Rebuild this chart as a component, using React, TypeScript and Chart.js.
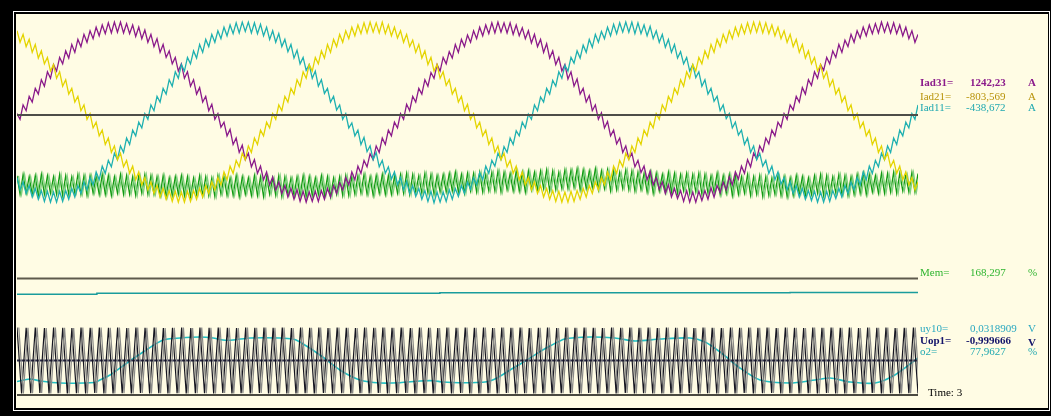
import React, { useEffect, useRef } from "react";
import { Chart, registerables } from "chart.js";

Chart.register(...registerables);

// ---------- time base ----------
const T_END = 3; // s ("Time: 3")

// ---------- top panel: phase currents, A ----------
const iad31: number[] = [
  20, -60, 140, 60, 260, 180, 370, 290, 490, 400, 600, 510, 700, 610, 800, 710, 890, 790, 980, 870, 1050, 950, 1120, 1010, 1170, 1060, 1220, 1100, 1250, 1130, 1280, 1140, 1290,
  1150, 1290, 1140, 1270, 1130, 1250, 1090, 1220, 1060, 1180,
  1010, 1120, 950, 1060, 870, 980, 800, 890, 710, 800,
  610, 710, 510, 600, 400, 490, 290, 380, 180, 260,
  60, 150, -60, 20, -170, -100, -290, -200, -410, -320,
  -520, -420, -620, -530, -720, -620, -810, -710, -900, -790,
  -970, -860, -1040, -930, -1090, -980, -1140, -1020, -1170, -1040,
  -1200, -1060, -1210, -1070, -1200, -1060, -1200, -1050, -1170, -1020,
  -1140, -980, -1090, -940, -1040, -870, -970, -790, -900, -710,
  -810, -630, -720, -540, -620, -430, -520, -320, -410, -210,
  -290, -100, -180, 20, -60, 150, 60, 260, 180, 370,
  290, 490, 400, 590, 510, 700, 610, 800, 710, 880,
  790, 980, 870, 1050, 950, 1110, 1010, 1170, 1060, 1220,
  1100, 1250, 1130, 1280, 1140, 1290,
  1150, 1280, 1140, 1280, 1120, 1250, 1100, 1210, 1060, 1170,
  1000, 1120, 950, 1050, 870, 990, 790, 890, 700, 800,
  610, 700, 500, 600, 400, 500, 290, 370, 180, 270,
  60, 140, -60, 30, -180, -90, -290, -210, -400, -320,
  -520, -430, -610, -530, -720, -630, -800, -710, -900, -780,
  -970, -870, -1030, -930, -1090, -970, -1140, -1020, -1160, -1050,
  -1200, -1050, -1210, -1070, -1210, -1060, -1190, -1050, -1170, -1010,
  -1140, -980, -1080, -930, -1040, -860, -970, -790, -890, -710,
  -810, -620, -720, -530, -610, -430, -510, -320, -400, -210,
  -290, -100, -170, 20, -60, 140, 70, 260, 180, 380,
  290, 490, 410, 600, 510, 700, 620, 800, 710, 890,
  800, 980, 870, 1040, 950, 1120, 1010, 1170, 1070, 1220,
  1100, 1250, 1130, 1270, 1140, 1290,
  1150, 1280, 1140, 1280, 1130, 1250, 1100, 1220, 1060, 1170, 1010, 1120,
];

const iad21: number[] = [
  1170, 1010, 1120, 950, 1050, 870, 980, 790, 890, 710, 800,
  610, 700, 510, 600, 400, 490, 290, 370, 180, 260,
  60, 140, -60, 20, -180, -100, -290, -210, -410, -320,
  -520, -430, -620, -530, -720, -630, -810, -710, -900, -790,
  -970, -870, -1040, -930, -1090, -980, -1140, -1020, -1170, -1050,
  -1200, -1060, -1210, -1070, -1210, -1060, -1200, -1050, -1170, -1020,
  -1140, -980, -1090, -930, -1040, -870, -970, -790, -900, -710,
  -810, -630, -720, -530, -620, -430, -520, -320, -410, -210,
  -290, -100, -180, 20, -60, 140, 60, 260, 180, 370,
  290, 490, 400, 600, 510, 700, 610, 800, 710, 890,
  790, 980, 870, 1050, 950, 1120, 1010, 1170, 1060, 1220,
  1100, 1250, 1130, 1280, 1140, 1290,
  1150, 1280, 1140, 1290, 1130, 1250, 1100, 1220, 1070, 1170,
  1010, 1120, 950, 1040, 870, 980, 790, 890, 700, 800,
  610, 700, 510, 600, 410, 490, 290, 370, 180, 260,
  60, 150, -60, 20, -180, -100, -290, -210, -410, -320,
  -520, -430, -620, -530, -720, -630, -810, -710, -900, -790,
  -970, -870, -1040, -930, -1090, -980, -1140, -1020, -1170, -1050,
  -1200, -1060, -1210, -1070, -1210, -1060, -1200, -1050, -1170, -1020,
  -1140, -980, -1090, -930, -1040, -870, -970, -790, -900, -710,
  -810, -630, -720, -530, -620, -430, -520, -320, -410, -210,
  -290, -100, -180, 20, -60, 140, 60, 260, 180, 370,
  290, 490, 400, 600, 510, 700, 610, 800, 710, 890,
  790, 980, 870, 1050, 950, 1120, 1010, 1170, 1060, 1220,
  1100, 1250, 1130, 1280, 1140, 1290,
  1150, 1290, 1140, 1280, 1130, 1250, 1100, 1220, 1060, 1170,
  1010, 1120, 950, 1050, 870, 980, 790, 890, 710, 800,
  610, 700, 510, 600, 400, 490, 290, 370, 180, 260,
  60, 140, -60, 20, -180, -100, -290, -210, -410, -320,
  -520, -430, -620, -530, -720, -630, -810, -710, -900, -790,
  -970, -870, -1040, -930,
];

const iad11: number[] = [
  -870, -1040, -930, -1090, -980, -1140, -1020, -1170, -1050,
  -1200, -1060, -1210, -1070, -1210, -1060, -1200, -1050, -1170, -1020,
  -1140, -980, -1090, -930, -1040, -870, -970, -790, -900, -710,
  -810, -630, -720, -530, -620, -430, -520, -320, -410, -210,
  -290, -100, -180, 20, -60, 140, 60, 260, 180, 370,
  290, 490, 400, 600, 510, 700, 610, 800, 710, 890,
  790, 980, 870, 1050, 950, 1120, 1010, 1170, 1060, 1220,
  1100, 1250, 1130, 1280, 1140, 1290,
  1160, 1290, 1140, 1280, 1130, 1260, 1100, 1220, 1050, 1170,
  1010, 1130, 950, 1050, 880, 980, 790, 900, 710, 800,
  620, 700, 510, 610, 400, 490, 300, 370, 180, 260,
  70, 140, -60, 20, -180, -110, -290, -210, -410, -310,
  -510, -430, -620, -520, -720, -630, -810, -720, -890, -790,
  -970, -870, -1040, -920, -1090, -980, -1130, -1020, -1170, -1050,
  -1200, -1060, -1220, -1070, -1210, -1070, -1200, -1040, -1170, -1020,
  -1130, -980, -1090, -930, -1030, -870, -970, -800, -900, -710,
  -810, -630, -710, -530, -620, -440, -520, -320, -410, -220,
  -290, -100, -180, 10, -60, 140, 60, 250, 180, 370,
  290, 480, 400, 600, 510, 690, 610, 800, 720, 890,
  790, 970, 870, 1050, 940, 1120, 1010, 1160, 1060, 1220,
  1100, 1260, 1130, 1280, 1150, 1290,
  1150, 1290, 1130, 1280, 1130, 1250, 1100, 1230, 1060, 1170,
  1010, 1120, 940, 1050, 870, 980, 790, 880, 710, 800,
  610, 700, 520, 600, 400, 490, 290, 370, 190, 260,
  60, 140, -50, 20, -180, -100, -280, -210, -410, -320,
  -520, -430, -620, -530, -710, -630, -810, -710, -900, -790,
  -960, -870, -1040, -930, -1090, -980, -1140, -1020, -1170, -1050,
  -1190, -1060, -1210, -1070, -1210, -1060, -1200, -1050, -1160, -1020,
  -1140, -980, -1090, -930, -1040, -870, -970, -790, -900, -710,
  -810, -630, -720, -530, -620, -430, -520, -320, -410, -210,
  -290, -100, -180, 20, -60, 140,
];

// green ripple band (Mem, %)
const mem: number[] = [
  176, 160, 177, 161, 175, 160, 176, 159, 177, 160,
  176, 161, 175, 160, 177, 159, 176, 160, 175, 161,
  177, 160, 176, 159, 176, 161, 175, 160, 177, 160,
  176, 159, 175, 161, 177, 160, 176, 160, 175, 159,
  176, 161, 177, 160, 176, 160,
  175, 159, 176, 158, 174, 159, 175, 160, 176, 159,
  175, 158, 174, 160, 176, 159, 175, 159, 174, 158,
  176, 160, 175, 159, 174, 159, 176, 158, 175, 160,
  174, 159, 176, 159, 175, 158, 175, 160, 174, 159,
  176, 158, 175, 160, 174, 159, 175, 159, 176, 158,
  175, 159, 174, 160, 176, 159, 175, 158, 174, 160, 175, 159, 176, 159, 175,
  160, 176, 161, 177, 160, 175, 159, 176, 161, 177, 160, 176, 160, 175, 161,
  177, 161, 178, 160, 177, 162, 176, 161, 178, 161, 177, 160, 176, 162, 177,
  162, 178, 163, 179, 162, 177, 161, 178, 163, 178, 162, 179, 162, 177, 163,
  179, 163, 180, 162, 179, 164, 178, 163, 180, 163, 179, 162, 180, 164, 179,
  164, 180, 165, 181, 163, 180, 164, 179, 165, 181,
  165, 181, 166, 182, 164, 181, 165, 180, 166, 182,
  164, 180, 165, 181, 163, 180, 164, 179, 165, 181, 164, 180, 163, 179, 164,
  178, 162, 179, 161, 178, 163, 177, 162, 179, 162, 178, 161, 177, 163, 178,
  161, 177, 162, 178, 160, 177, 161, 176, 162, 178,
  160, 176, 161, 177, 159, 176, 160, 175, 161, 177,
  159, 175, 160, 176, 158, 175, 159, 174, 160, 176, 159, 175, 158, 174, 159, 176, 160, 175, 159, 174,
  160, 176, 161, 177, 159, 176, 160, 175, 161, 177, 160, 176, 159, 175, 160,
  177, 161, 178, 160, 177, 162, 176, 161, 178, 161,
  178, 162, 179, 161, 178, 163, 177, 162, 179, 162, 178,
];

// ---------- middle panel: uy10, V ----------
const uy10Time: number[] = [0, 0.266, 1.408, 2.574, 3];
const uy10Vals: number[] = [0.0296, 0.0309, 0.0315, 0.0319, 0.0319];
const uy10Ref: number[] = [0.0501, 0.0501];

// ---------- bottom panel: Uop1, V and o2, % ----------
const uop1: number[] = [
  1, -1, 0.99, -0.99, 1, -0.98, 0.98, -1, 1, -0.99, 0.99, -1, 0.98, -0.99, 1, -1, 0.99, -0.98, 1, -1,
  0.99, -1, 1, -0.99, 0.98, -1, 1, -0.98, 0.99, -1, 1, -0.99, 0.98, -1, 0.99, -0.99, 1, -1, 0.98, -0.99,
  1, -0.99, 0.99, -1, 1, -0.98, 0.99, -1, 0.98, -0.99, 1, -1, 0.99, -0.98, 1, -1, 0.99, -0.99, 1, -1,
  0.98, -1, 1, -0.99, 0.99, -1, 1, -0.98, 0.98, -1, 1, -0.99, 0.99, -1, 0.98, -0.99, 1, -1, 0.99, -0.98,
  1, -1, 0.99, -0.99, 1, -0.98, 0.98, -1, 1, -0.99, 0.99, -1, 0.98, -0.99, 1, -1, 0.99, -0.98, 1, -1,
  0.99, -1, 1, -0.99, 0.98, -1, 1, -0.98, 0.99, -1, 1, -0.99, 0.98, -1, 0.99, -0.99, 1, -1, 0.98, -0.99,
  1, -0.99, 0.99, -1, 1, -0.98, 0.99, -1, 0.98, -0.99, 1, -1, 0.99, -0.98, 1, -1, 0.99, -0.99, 1, -1,
  0.98, -1, 1, -0.99, 0.99, -1, 1, -0.98, 0.98, -1, 1, -0.99, 0.99, -1, 0.98, -0.99, 1, -1, 0.99, -0.98,
  1, -1, 0.99, -0.99, 1, -0.98, 0.98, -1, 1, -0.99, 0.99, -1, 0.98, -0.99, 1, -1, 0.99, -0.98, 1, -1,
  0.99, -1, 1, -0.99, 0.98, -1, 1, -0.98, 0.99, -1, 1, -0.99, 0.98, -1, 0.99, -0.99, 1, -1,
];
const uop1Zero: number[] = [0, 0];

const o2Time: number[] = [
  0, 0.043, 0.077, 0.143, 0.26, 0.276, 0.31, 0.366, 0.42, 0.486,
  0.543, 0.609, 0.653, 0.686, 0.719, 0.776, 0.876, 0.919, 0.942, 1.009,
  1.075, 1.142, 1.209, 1.275, 1.342, 1.385, 1.418, 1.475, 1.565, 1.598,
  1.642, 1.698, 1.741, 1.775, 1.824, 1.908, 1.991, 2.058, 2.141, 2.241,
  2.291, 2.341, 2.407, 2.474, 2.574, 2.657, 2.707, 2.774, 2.857, 2.923, 3,
];
const o2Vals: number[] = [
  28.5, 33.7, 29.5, 25.3, 26.4, 31.6, 42.2, 67.5, 90.6, 115.9,
  120.2, 122.3, 120.2, 115.9, 115.9, 120.2, 120.2, 118, 111.7, 84.3,
  52.7, 31.6, 25.3, 25.9, 29.5, 30.1, 27.4, 25.9, 28, 35.8,
  52.7, 73.8, 91.3, 103.3, 118, 122.3, 120.2, 113.8, 118, 120.2,
  111.7, 90.6, 56.9, 31.6, 25.3, 31.6, 35.8, 27.4, 25.3, 42.2, 78,
];
const o2Zero: number[] = [0, 0];
const iadZero: number[] = [0, 0];

// ---------- readouts ----------
const readNames: string[] = ["Iad31=", "Iad21=", "Iad11=", "Mem=", "uy10=", "Uop1=", "o2="];
const readValues: string[] = ["1242,23", "-803,569", "-438,672", "168,297", "0,0318909", "-0,999666", "77,9627"];
const readUnits: string[] = ["A", "A", "A", "%", "V", "V", "%"];
const timeLabel = "Time: 3";

// ---------- styling / layout ----------
const W = 1051;
const H = 416;
const rowCenter = [82, 96, 107, 272, 328, 340, 351];
const rowColor = ["#8b1a8b", "#b8930a", "#1fa8b0", "#2fb52f", "#2aa8c0", "#14146a", "#1fa8b0"];
const rowBold = [true, false, false, false, false, true, false];

const series = (vals: number[], shift = 0) =>
  vals.map((v, i) => ({ x: (i * T_END) / (vals.length - 1) + shift, y: v }));
const pairs = (ts: number[], vs: number[]) => ts.map((t, i) => ({ x: t, y: vs[i] }));

const framePlugin = {
  id: "scopeFrame",
  beforeDraw(chart: any) {
    const ctx = chart.ctx as CanvasRenderingContext2D;
    ctx.save();
    ctx.fillStyle = "#000";
    ctx.fillRect(0, 0, chart.width, chart.height);
    ctx.strokeStyle = "#ffffff";
    ctx.lineWidth = 1;
    ctx.strokeRect(13.5, 11.5, 1036, 399);
    ctx.fillStyle = "#fffce4";
    ctx.fillRect(16, 14, 1032, 394);
    ctx.restore();
  },
};

export default function App() {
  const ref = useRef<HTMLCanvasElement | null>(null);

  useEffect(() => {
    if (!ref.current) return;
    const line = (extra: any) => ({
      pointRadius: 0,
      tension: 0,
      fill: false,
      borderWidth: 1.3,
      ...extra,
    });
    const chart = new Chart(ref.current, {
      type: "line",
      data: {
        datasets: [
          line({ label: "Iad zero", data: series(iadZero), yAxisID: "yI", borderColor: "#4d4d48", borderWidth: 2 }),
          line({ label: "Iad21", data: series(iad21), yAxisID: "yI", borderColor: "#e4d400" }),
          line({ label: "Iad11", data: series(iad11), yAxisID: "yI", borderColor: "#1eb0b0" }),
          line({ label: "Iad31", data: series(iad31), yAxisID: "yI", borderColor: "#8a1a8a" }),
          line({ label: "Mem b", data: series(mem, 0.005), yAxisID: "yMem", borderColor: "#7fd07f" }),
          line({ label: "Mem", data: series(mem), yAxisID: "yMem", borderColor: "#129a12" }),
          line({ label: "uy10 ref", data: series(uy10Ref), yAxisID: "yMid", borderColor: "#5e5a4c", borderWidth: 2 }),
          line({ label: "uy10", data: pairs(uy10Time, uy10Vals), yAxisID: "yMid", borderColor: "#1a9c9c", stepped: true, borderWidth: 1.5 }),
          line({ label: "o2 zero", data: series(o2Zero), yAxisID: "yO", borderColor: "#4a4940", borderWidth: 2 }),
          line({ label: "Uop1 b", data: series(uop1, 0.006), yAxisID: "yU", borderColor: "#8a8a88", borderWidth: 1.2 }),
          line({ label: "Uop1", data: series(uop1), yAxisID: "yU", borderColor: "#151520", borderWidth: 1.2 }),
          line({ label: "Uop1 zero", data: series(uop1Zero), yAxisID: "yU", borderColor: "#2b2b4a", borderWidth: 2 }),
          line({ label: "o2", data: pairs(o2Time, o2Vals), yAxisID: "yO", borderColor: "#22c0c4", borderWidth: 1.6, tension: 0.25 }),
        ],
      },
      options: {
        responsive: false,
        maintainAspectRatio: false,
        devicePixelRatio: 1,
        animation: false,
        events: [],
        layout: { padding: { left: 17, right: 133, top: 14, bottom: 9 } },
        plugins: { legend: { display: false }, tooltip: { enabled: false } },
        scales: {
          x: { type: "linear", min: 0, max: T_END, display: false },
          yI: { type: "linear", min: -4055.5, max: 1402.8, display: false },
          yMem: { type: "linear", min: -25, max: 316.7, display: false },
          yMid: { type: "linear", min: -0.11695, max: 0.39395, display: false },
          yU: { type: "linear", min: -1.409, max: 10.5, display: false },
          yO: { type: "linear", min: -25.3, max: 803.1, display: false },
        },
      } as any,
      plugins: [framePlugin],
    });
    return () => chart.destroy();
  }, []);

  const font = "'Liberation Serif', 'Times New Roman', serif";
  const txt = (s: string, left: number, center: number, color: string, bold: boolean, key: string) => (
    <span
      key={key}
      style={{
        position: "absolute",
        left,
        top: center - 7,
        lineHeight: "14px",
        fontSize: 11,
        fontFamily: font,
        fontWeight: bold ? 700 : 400,
        color,
        whiteSpace: "nowrap",
      }}
    >
      {s}
    </span>
  );

  return (
    <div style={{ position: "absolute", left: 0, top: 0, width: W, height: H, overflow: "hidden" }}>
      <canvas ref={ref} width={W} height={H} style={{ display: "block", width: W, height: H }} />
      {readNames.map((n, i) => txt(n, 920, rowCenter[i], rowColor[i], rowBold[i], "n" + i))}
      {readValues.map((v, i) => txt(v, v.startsWith("-") ? 966 : 970, rowCenter[i], rowColor[i], rowBold[i], "v" + i))}
      {readUnits.map((u, i) => txt(u, 1028, rowCenter[i] + (i === 5 ? 2 : 0), rowColor[i], rowBold[i], "u" + i))}
      {txt(timeLabel, 928, 392, "#000", false, "time")}
    </div>
  );
}
